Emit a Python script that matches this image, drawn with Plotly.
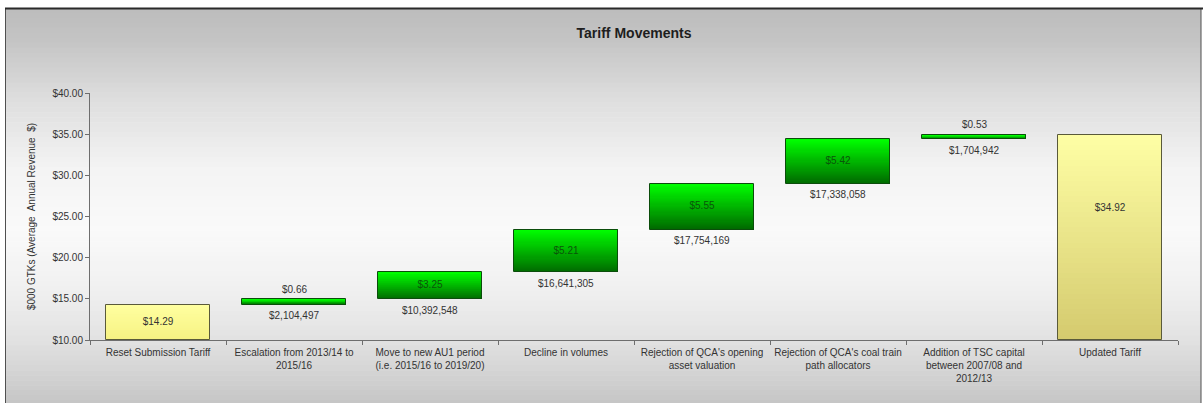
import plotly.graph_objects as go

# ---------------- data ----------------
categories = [
    "Reset Submission Tariff",
    "Escalation from 2013/14 to<br>2015/16",
    "Move to new AU1 period<br>(i.e. 2015/16 to 2019/20)",
    "Decline in volumes",
    "Rejection of QCA's opening<br>asset valuation",
    "Rejection of QCA's coal train<br>path allocators",
    "Addition of TSC capital<br>between 2007/08 and<br>2012/13",
    "Updated Tariff",
]
kinds = ["total", "delta", "delta", "delta", "delta", "delta", "delta", "total"]
values = [14.29, 0.66, 3.25, 5.21, 5.55, 5.42, 0.53, 34.92]
revenue = [None, 2104497, 10392548, 16641305, 17754169, 17338058, 1704942, None]
y_ticks = [10, 15, 20, 25, 30, 35, 40]

# ---------------- layout constants ----------------
W, H = 1203, 403
ML, MR, MT, MB = 90, 25, 93, 63
PW, PH = W - ML - MR, H - MT - MB
AXIS_MIN, AXIS_MAX = 10, 40
FONT = "Liberation Sans, Arial, sans-serif"


def px_x(px):
    return (px - ML) / PW


def px_y(py):
    return (H - MB - py) / PH


def lerp(c0, c1, f):
    return "rgb(%d,%d,%d)" % tuple(round(a + (b - a) * f) for a, b in zip(c0, c1))


# waterfall bases / heights
bases, heights = [], []
running = 0.0
for k, v in zip(kinds, values):
    if k == "total":
        bases.append(AXIS_MIN)
        heights.append(v - AXIS_MIN)
        running = v
    else:
        bases.append(running)
        heights.append(v)
        running += v
tops = [b + h for b, h in zip(bases, heights)]

GREEN_TOP, GREEN_BOT = (0, 255, 0), (0, 105, 0)
YEL_TOP, YEL_BOT = (255, 255, 165), (212, 202, 110)
YEL1_TOP, YEL1_BOT = (255, 255, 160), (246, 242, 130)
top_cols, bot_cols, line_cols = [], [], []
for i, k in enumerate(kinds):
    if k == "total":
        if i == 0:
            top_cols.append(YEL1_TOP); bot_cols.append(YEL1_BOT)
        else:
            top_cols.append(YEL_TOP); bot_cols.append(YEL_BOT)
        line_cols.append("#5a5a3a")
    else:
        top_cols.append(GREEN_TOP); bot_cols.append(GREEN_BOT)
        line_cols.append("#0b4d0b")

fig = go.Figure()
BW = 0.77
K = 40
for s in range(K):
    f0 = s / K
    f = (s + 0.5) / K
    fig.add_trace(go.Bar(
        x=categories,
        base=[b + h * f0 for b, h in zip(bases, heights)],
        y=[h * (1 - f0) for h in heights],
        width=BW,
        marker=dict(color=[lerp(bc, tc, f) for bc, tc in zip(bot_cols, top_cols)],
                    line=dict(width=0)),
        hoverinfo="skip", showlegend=False,
    ))

# outline
fig.add_trace(go.Bar(
    x=categories, base=bases, y=heights, width=BW,
    marker=dict(color="rgba(0,0,0,0)", line=dict(color=line_cols, width=1)),
    hoverinfo="skip", showlegend=False,
))

# inside labels
inside_txt, inside_y, inside_col = [], [], []
for i, (k, v) in enumerate(zip(kinds, values)):
    if k == "total":
        inside_txt.append("$%.2f" % v)
        frac = 0.5 if i == 0 else 0.64
        inside_y.append(bases[i] + heights[i] * frac)
        inside_col.append("#333333")
    elif v >= 1.0:
        inside_txt.append("$%.2f" % v)
        inside_y.append(bases[i] + heights[i] / 2)
        inside_col.append("#0a560a")
    else:
        inside_txt.append("")
        inside_y.append(bases[i] + heights[i] / 2)
        inside_col.append("#333333")
fig.add_trace(go.Scatter(
    x=categories, y=inside_y, mode="text", text=inside_txt,
    textfont=dict(family=FONT, size=10, color=inside_col),
    hoverinfo="skip", showlegend=False,
))

annotations = []
# above labels (thin bars)
for i, (k, v) in enumerate(zip(kinds, values)):
    if k == "delta" and v < 1.0:
        annotations.append(dict(x=categories[i], y=tops[i], xref="x", yref="y",
                                text="$%.2f" % v, showarrow=False, yshift=10,
                                font=dict(family=FONT, size=10, color="#333333")))
# below labels (revenue)
for i, r in enumerate(revenue):
    if r is not None:
        annotations.append(dict(x=categories[i], y=bases[i], xref="x", yref="y",
                                text="${:,}".format(r), showarrow=False, yshift=-11,
                                font=dict(family=FONT, size=10, color="#333333")))

# ---------------- background gradient of chart box ----------------
stops = [(8, 188), (40, 196), (100, 222), (170, 244), (230, 250), (290, 240), (340, 226), (403, 198)]


def gray_at(py):
    for (y0, g0), (y1, g1) in zip(stops[:-1], stops[1:]):
        if y0 <= py <= y1:
            return g0 + (g1 - g0) * (py - y0) / (y1 - y0)
    return stops[-1][1]


shapes = []
NB = 80
y_start, y_end = 8, 405
for j in range(NB):
    a = y_start + (y_end - y_start) * j / NB
    b = y_start + (y_end - y_start) * (j + 1) / NB + 0.6
    g = round(gray_at((a + b) / 2))
    shapes.append(dict(type="rect", xref="paper", yref="paper", layer="below",
                       x0=px_x(5), x1=px_x(1201), y0=px_y(b), y1=px_y(a),
                       fillcolor="rgb(%d,%d,%d)" % (g, g, g), line=dict(width=0)))
# frame
shapes.append(dict(type="rect", xref="paper", yref="paper", layer="below",
                   x0=px_x(5.5), x1=px_x(1201), y0=px_y(410), y1=px_y(8.5),
                   fillcolor="rgba(0,0,0,0)", line=dict(color="#505050", width=1)))
shapes.append(dict(type="line", xref="paper", yref="paper", layer="below",
                   x0=px_x(5), x1=px_x(1203), y0=px_y(8.5), y1=px_y(8.5),
                   line=dict(color="#2a2a2a", width=2)))

fig.update_layout(
    width=W, height=H,
    margin=dict(l=ML, r=MR, t=MT, b=MB, autoexpand=False),
    paper_bgcolor="white",
    plot_bgcolor="rgba(0,0,0,0)",
    barmode="overlay",
    bargap=0,
    shapes=shapes,
    annotations=annotations,
    font=dict(family=FONT, size=10, color="#333333"),
    title=dict(text="<b>Tariff Movements</b>", x=0.5, xref="paper", xanchor="center",
               y=1 - 33 / H, yref="container", yanchor="middle",
               font=dict(family=FONT, size=14, color="#1e1e1e")),
    xaxis=dict(
        type="category", range=[-0.5, len(categories) - 0.5],
        showgrid=False, zeroline=False, automargin=False, tickangle=0,
        showline=True, linecolor="#6e6e6e", linewidth=1,
        ticks="outside", tickson="boundaries", ticklen=4, tickcolor="#6e6e6e",
        ticklabelstandoff=3,
        tickfont=dict(family=FONT, size=10, color="#333333"),
        fixedrange=True,
    ),
    yaxis=dict(
        range=[AXIS_MIN, AXIS_MAX], tickvals=y_ticks, tickformat="$.2f",
        showgrid=False, zeroline=False, automargin=False,
        showline=True, linecolor="#6e6e6e", linewidth=1,
        ticks="outside", ticklen=4, tickcolor="#6e6e6e",
        tickfont=dict(family=FONT, size=10, color="#333333"),
        title=dict(text="$000 GTKs (Average  Annual Revenue  $)",
                   font=dict(family=FONT, size=10, color="#333333"), standoff=14),
        fixedrange=True,
    ),
)

fig.write_html("out.html")
